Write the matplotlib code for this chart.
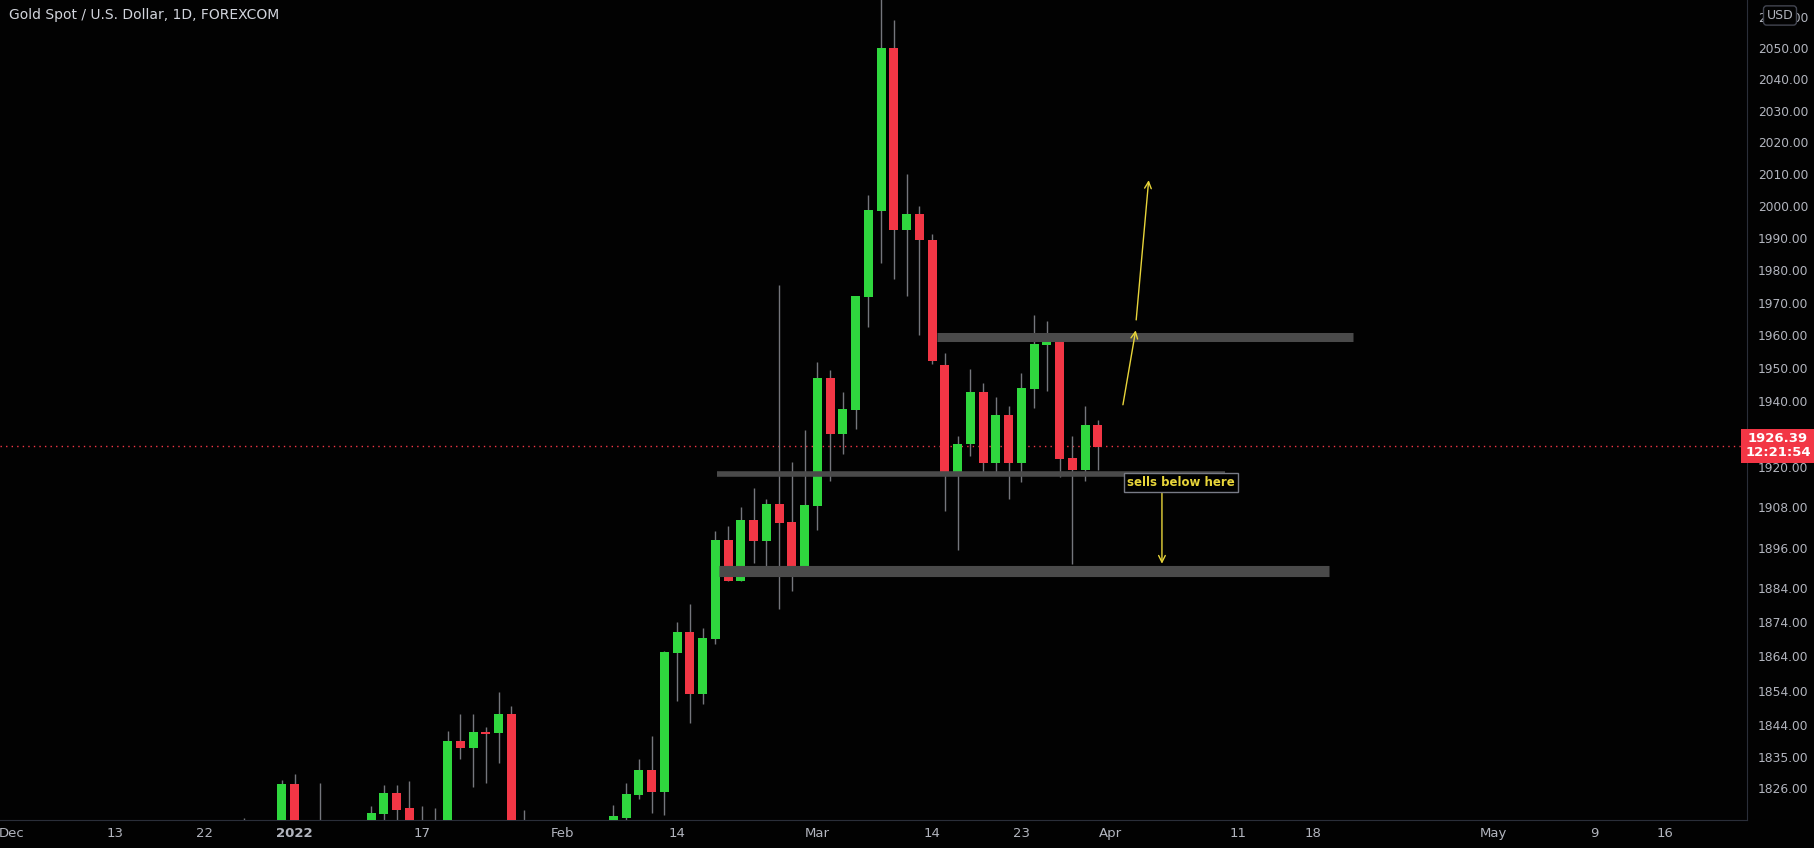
import matplotlib
matplotlib.use("Agg")
import matplotlib.pyplot as plt
from matplotlib.ticker import FixedLocator, FixedFormatter, NullLocator

# ── Data (bar index relative to last bar, OHLC) ─────────────────
bar_idx = [-67, -64, -63, -61, -57, -56, -55, -54, -53, -52, -51, -50, -49, -48,
           -47, -46, -45, -38, -37, -36, -35, -34, -33, -32, -31, -30, -29, -28,
           -27, -26, -25, -24, -23, -22, -21, -20, -19, -18, -17, -16, -15, -14,
           -13, -12, -11, -10, -9, -8, -7, -6, -5, -4, -3, -2, -1, 0]
opens = [1812.0, 1812.0, 1827.2, 1814.0, 1814.0, 1818.7, 1824.6, 1820.2, 1814.7, 1816.6,
         1813.0, 1839.4, 1837.5, 1842.0, 1841.8, 1847.3, 1816.9, 1812.0, 1817.6, 1824.0,
         1831.2, 1825.0, 1865.1, 1871.1, 1853.1, 1869.1, 1898.3, 1886.1, 1904.2, 1898.0,
         1908.9, 1903.6, 1889.4, 1908.4, 1946.8, 1930.0, 1937.3, 1971.9, 1998.5, 2050.2,
         1992.5, 1997.5, 1989.5, 1950.9, 1917.7, 1927.0, 1942.7, 1921.3, 1935.8, 1921.3,
         1943.7, 1957.1, 1957.9, 1922.8, 1919.1, 1932.7]
highs = [1817.6, 1828.2, 1830.0, 1827.5, 1821.0, 1826.9, 1826.9, 1827.9, 1821.0, 1820.4,
         1842.5, 1847.3, 1847.3, 1843.4, 1853.5, 1849.5, 1819.8, 1821.2, 1827.5, 1834.4,
         1840.9, 1865.6, 1874.0, 1879.3, 1872.3, 1901.0, 1902.4, 1908.0, 1913.7, 1910.4,
         1975.5, 1921.5, 1931.2, 1951.8, 1949.5, 1942.8, 1972.1, 2003.4, 2070.0, 2059.1,
         2010.1, 2000.0, 1991.3, 1954.5, 1929.4, 1949.7, 1945.5, 1941.2, 1938.5, 1948.5,
         1966.1, 1964.3, 1959.4, 1929.4, 1938.5, 1934.2]
lows = [1806.0, 1806.0, 1808.0, 1806.0, 1810.0, 1815.0, 1815.0, 1812.0, 1812.0, 1811.0,
        1810.0, 1834.3, 1826.3, 1827.5, 1833.1, 1812.0, 1810.0, 1808.0, 1813.0, 1823.0,
        1819.0, 1818.2, 1850.9, 1844.6, 1850.3, 1867.7, 1886.0, 1886.0, 1891.4, 1889.6,
        1877.8, 1883.1, 1889.0, 1901.3, 1915.8, 1923.8, 1931.5, 1962.5, 1982.2, 1977.4,
        1972.2, 1960.0, 1951.3, 1906.9, 1895.2, 1923.4, 1918.2, 1918.2, 1910.4, 1915.6,
        1937.7, 1943.1, 1917.1, 1891.2, 1915.9, 1919.1]
closes = [1811.0, 1827.2, 1814.0, 1812.0, 1819.0, 1824.6, 1819.8, 1814.7, 1816.6, 1814.0,
          1839.4, 1837.5, 1842.1, 1841.6, 1847.3, 1816.6, 1813.0, 1817.9, 1824.3, 1831.2,
          1825.0, 1865.4, 1871.1, 1853.1, 1869.4, 1898.3, 1886.1, 1904.2, 1898.0, 1908.9,
          1903.3, 1889.4, 1908.6, 1946.8, 1930.0, 1937.6, 1972.1, 1998.8, 2050.2, 1992.5,
          1997.5, 1989.3, 1952.2, 1917.7, 1927.0, 1942.7, 1921.3, 1935.8, 1921.3, 1943.9,
          1957.3, 1957.9, 1922.5, 1919.1, 1932.7, 1926.1]

last_price = 1926.39
countdown = "12:21:54"

price_ticks = [2060, 2050, 2040, 2030, 2020, 2010, 2000, 1990, 1980, 1970, 1960, 1950,
               1940, 1930, 1920, 1908, 1896, 1884, 1874, 1864, 1854, 1844, 1835, 1826]
date_labels = ["Dec", "13", "22", "2022", "17", "Feb", "14", "Mar", "14", "23",
               "Apr", "11", "18", "May", "9", "16"]
date_pos = [-85.2, -77.1, -70.1, -63, -53, -42, -33, -22, -13, -6, 1, 11, 16.9, 31, 38.9, 44.5]

# levels: (price, x start, x end, thickness)
levels = [(1959.6, -12.65, 20.0, 6.5), (1918.0, -29.9, 10.0, 4), (1889.0, -29.7, 18.1, 8)]

GREEN = '#2fd73e'
RED = '#f23645'
WICK = '#74767c'
YEL = '#e8d53a'
AX_TXT = '#b2b5be'
BG = '#020202'

# ── Figure ─────────────────────────────────────────────────────
fig = plt.figure(figsize=(18.14, 8.48), dpi=100)
fig.patch.set_facecolor(BG)
ax = fig.add_axes([0, 28 / 848, 1747 / 1814, 820 / 848])
ax.set_facecolor(BG)
ax.set_yscale('log')
ax.set_ylim(1816.9, 2065.5)
ax.set_xlim(-86.1, 50.9)

for i, o, h, l, c in zip(bar_idx, opens, highs, lows, closes):
    col = GREEN if c >= o else RED
    ax.vlines(i, l, h, color=WICK, linewidth=1, zorder=2)
    lo, hi = min(o, c), max(o, c)
    if hi - lo < 0.6:
        hi = lo + 0.6
    ax.bar(i, hi - lo, bottom=lo, width=0.7, color=col, linewidth=0, zorder=3)

for p, x0, x1, lw in levels:
    ax.hlines(p, x0, x1, color='#4a4a4a', linewidth=lw, zorder=4)

ax.axhline(last_price, color=RED, linestyle=(0, (1, 3)), linewidth=1, zorder=1)

# annotations
arw = dict(arrowstyle='->', color=YEL, lw=1, mutation_scale=12, shrinkA=0, shrinkB=0)
ax.annotate('', xy=(2.96, 1961.5), xytext=(1.96, 1938.8), arrowprops=arw, zorder=6)
ax.annotate('', xy=(3.98, 2008.1), xytext=(3.0, 1964.7), arrowprops=arw, zorder=6)
ax.annotate('', xy=(5.02, 1891.2), xytext=(5.02, 1912.4), arrowprops=arw, zorder=6)
ax.text(6.5, 1915.3, 'sells below here', color=YEL, fontsize=8.5, fontweight='bold',
        ha='center', va='center', zorder=7,
        bbox=dict(boxstyle='square,pad=0.25', facecolor='black', edgecolor='#787b86', lw=1))

# axes styling
for s in ['top', 'left']:
    ax.spines[s].set_visible(False)
ax.spines['right'].set_color('#2a2e39')
ax.spines['bottom'].set_color('#2a2e39')
ax.yaxis.tick_right()
ax.yaxis.set_major_locator(FixedLocator(price_ticks))
ax.yaxis.set_major_formatter(FixedFormatter([f'{p:.2f}' for p in price_ticks]))
ax.yaxis.set_minor_locator(NullLocator())
ax.tick_params(axis='y', length=0, pad=8, labelsize=8.8, labelcolor=AX_TXT)
ax.xaxis.set_major_locator(FixedLocator(date_pos))
ax.xaxis.set_major_formatter(FixedFormatter(date_labels))
ax.tick_params(axis='x', length=0, pad=5, labelsize=9.5, labelcolor=AX_TXT)
for t in ax.get_xticklabels():
    if t.get_text() == '2022':
        t.set_fontweight('bold')

# title
fig.text(9 / 1814, 1 - 15 / 848, 'Gold Spot / U.S. Dollar, 1D, FOREXCOM',
         color='#d1d4dc', fontsize=10, va='center', ha='left')

# last price label
fig.text(1778 / 1814, 1 - 446 / 848, f'{last_price:.2f}\n{countdown}', color='white',
         fontsize=9.5, fontweight='bold', ha='center', va='center', linespacing=1.1,
         zorder=10, bbox=dict(boxstyle='square,pad=0.3', facecolor=RED, edgecolor='none'))
fig.text(1780 / 1814, 1 - 15.5 / 848, 'USD', color=AX_TXT, fontsize=9, ha='center',
         va='center', zorder=10,
         bbox=dict(boxstyle='round,pad=0.25', facecolor=BG, edgecolor='#434651'))

fig.savefig('out.png', dpi=100, facecolor=BG)
